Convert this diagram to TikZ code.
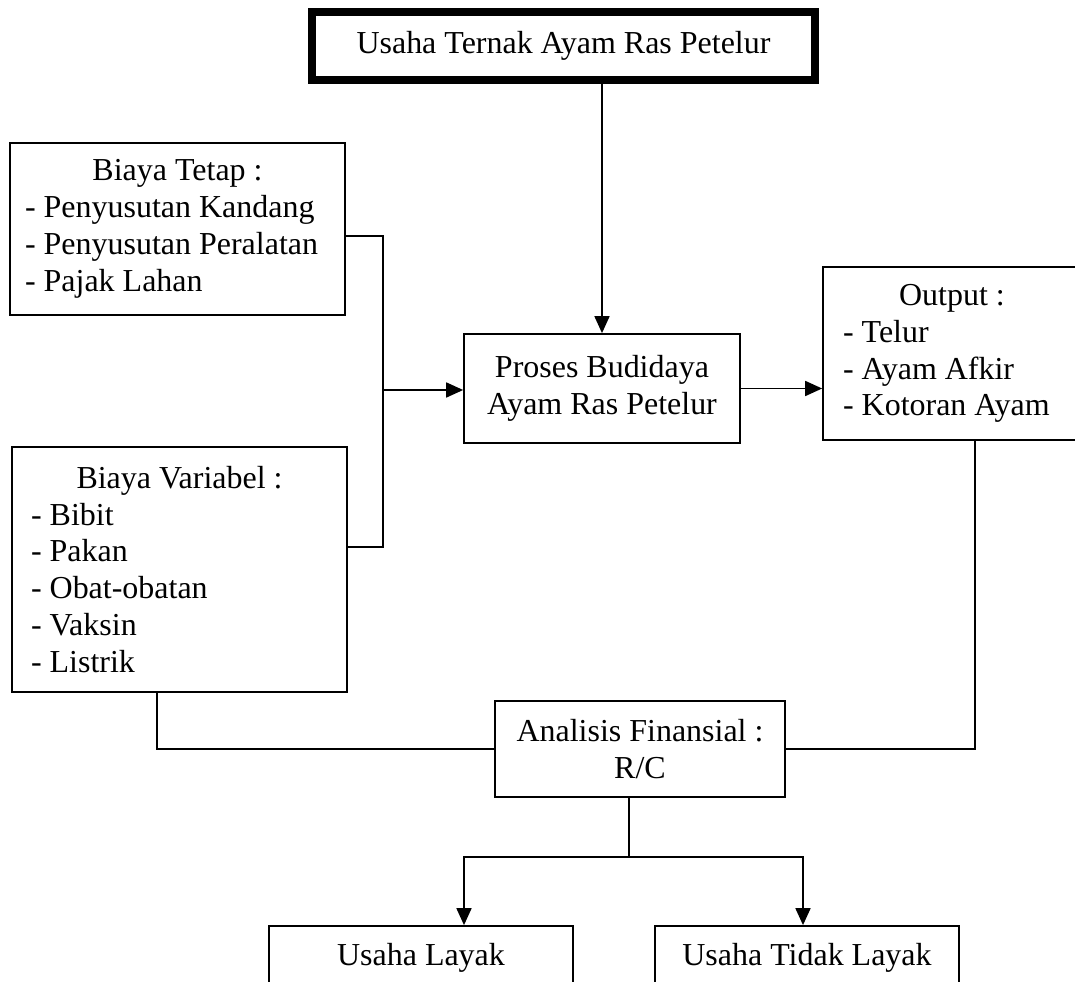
\documentclass[tikz,border=0pt]{standalone}
\usepackage{fontspec}
\setmainfont{Liberation Serif}
\usetikzlibrary{arrows.meta,calc}

\begin{document}
\begin{tikzpicture}[x=0.02cm,y=-0.02cm,
        every node/.style={font=\fontsize{18.2pt}{21pt}\selectfont},
        box/.style={draw, line width=1pt, inner sep=0pt, align=center},
        listbox/.style={box, align=flush left, text width=#1},
        line/.style={line width=1pt},
        arr/.style={line width=1pt, -{Triangle[length=0.34cm,width=0.3cm]}}]
        \clip (0,0) rectangle (1075,982);

        \node[box, line width=4.7pt, minimum width=10.06cm, minimum height=1.36cm] (usaha) at (563.5,46) {Usaha Ternak Ayam Ras Petelur};
        \node[listbox=6.1cm, minimum width=6.7cm, minimum height=3.44cm] (tetap) at (177.5,229) {\makebox[\hsize]{Biaya Tetap :}\\- Penyusutan Kandang\\- Penyusutan Peralatan\\- Pajak Lahan};
        \node[listbox=5.94cm, minimum width=6.7cm, minimum height=4.9cm] (variabel) at (179.5,569.5) {\makebox[\hsize]{Biaya Variabel :}\\- Bibit\\- Pakan\\- Obat-obatan\\- Vaksin\\- Listrik};
        \node[box, minimum width=5.52cm, minimum height=2.18cm] (proses) at (602,388.5) {Proses Budidaya\\Ayam Ras Petelur};
        \node[listbox=4.36cm, minimum width=5.16cm, minimum height=3.46cm] (output) at (952,353.5) {\makebox[\hsize]{Output :}\\- Telur\\- Ayam Afkir\\- Kotoran Ayam};
        \node[box, minimum width=5.8cm, minimum height=1.92cm] (analisis) at (640,749) {Analisis Finansial :\\R/C};
        \node[box, minimum width=6.08cm, minimum height=1.28cm] (layak) at (421,958) {Usaha Layak};
        \node[box, minimum width=6.08cm, minimum height=1.28cm] (tidak) at (807,958) {Usaha Tidak Layak};

        \coordinate (gabung) at (383,390);
        \coordinate (belok1) at (157,749);
        \coordinate (belok2) at (975,749);
        \coordinate (cabang) at (629,857);
        \coordinate (kiri) at (464,857);
        \coordinate (kanan) at (803,857);

        \draw[arr] (usaha.south -| proses) -- (proses.north);
        \draw[line] ($(tetap.north east)!0.54!(tetap.south east)$) -| (gabung) |- ($(variabel.north east)!0.41!(variabel.south east)$);
        \draw[arr] (gabung) -- (gabung -| proses.west);
        \draw[arr] (proses.east) -- (proses.east -| output.west);
        \draw[line] (output.south -| belok2) -- (belok2) -- (analisis.east);
        \draw[line] (variabel.south -| belok1) -- (belok1) -- (analisis.west);
        \draw[line] (analisis.south -| cabang) -- (cabang);
        \draw[arr] (cabang) -| (kiri |- layak.north);
        \draw[arr] (cabang) -| (kanan |- tidak.north);
\end{tikzpicture}
\end{document}
